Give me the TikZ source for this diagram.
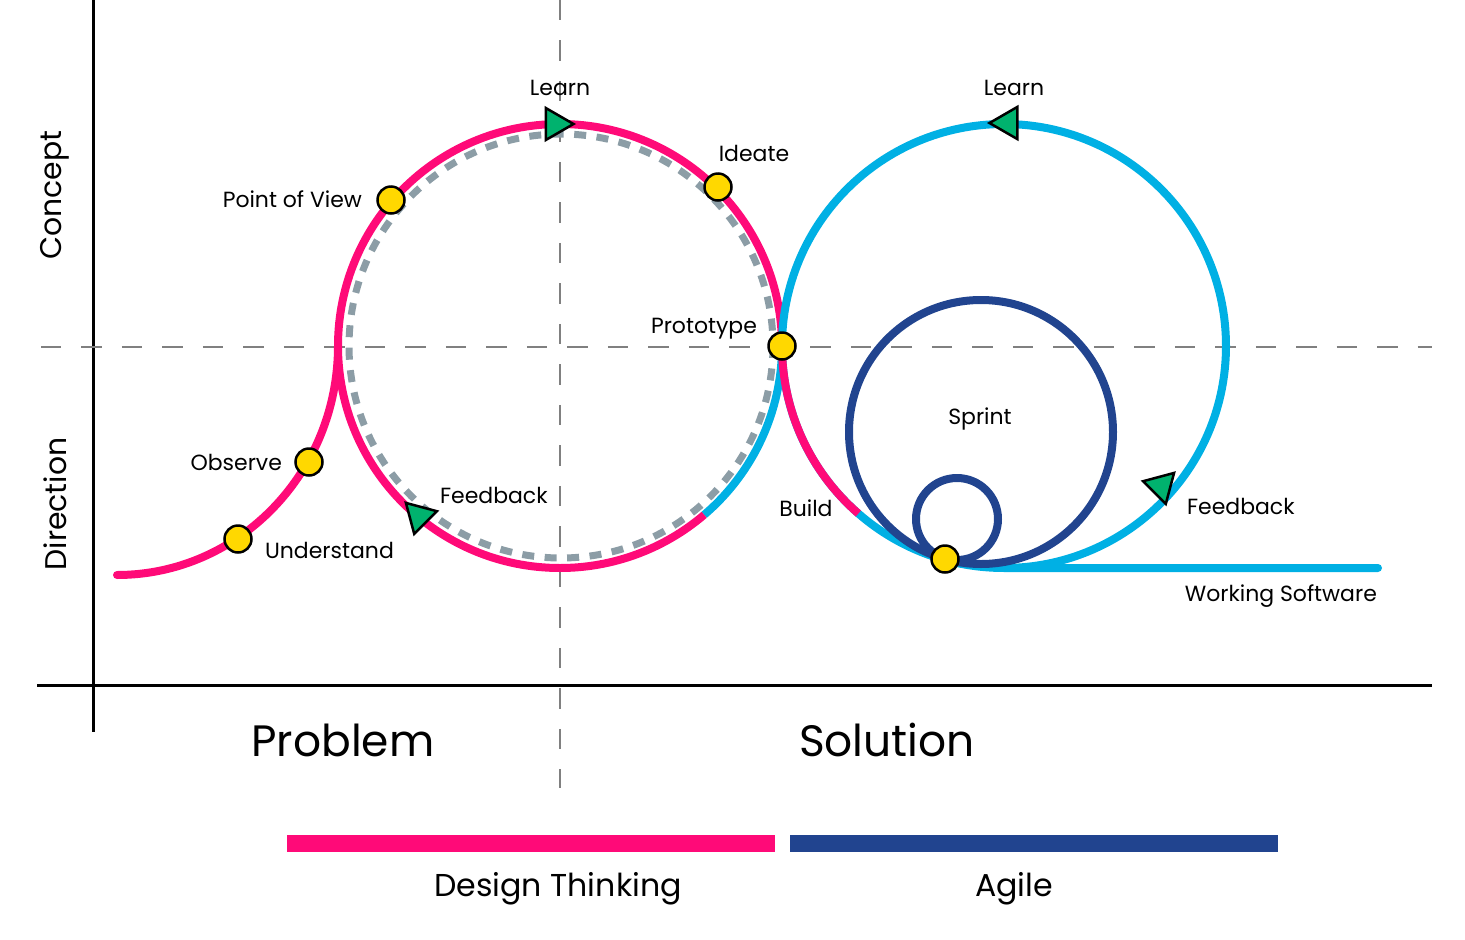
\documentclass[tikz,border=0pt]{standalone}
\usepackage{fontspec}
\setmainfont{Poppins}
\usetikzlibrary{positioning,shapes.geometric}
\definecolor{dtpink}{HTML}{FF0A78}
\definecolor{agcyan}{HTML}{00B0E4}
\definecolor{agnavy}{HTML}{21448F}
\definecolor{dotyellow}{HTML}{FFD800}
\definecolor{arrowgreen}{HTML}{00B26E}
\definecolor{loopgrey}{HTML}{8C9DA6}
\tikzset{
  track/.style={line width=0.16cm},
  pinktrack/.style={track, draw=dtpink},
  cyantrack/.style={track, draw=agcyan},
  navytrack/.style={track, draw=agnavy},
  guide/.style={draw=gray, line width=0.03cm, dash pattern=on 0.41cm off 0.4cm},
  axisline/.style={draw=black, line width=0.06cm},
  stepdot/.style={draw, circle, fill=dotyellow, line width=0.05cm, minimum size=0.54cm, inner sep=0pt},
  dirtri/.style={draw, regular polygon, regular polygon sides=3, fill=arrowgreen, line width=0.05cm, minimum size=0.74cm, inner sep=0pt},
  lbl/.style={font=\fontsize{12.5}{14}\selectfont, inner sep=1pt},
  phase/.style={font=\fontsize{25}{30}\selectfont},
  method/.style={font=\fontsize{18}{22}\selectfont},
  axislbl/.style={font=\fontsize{17}{20}\selectfont, rotate=90},
}
\begin{document}
\begin{tikzpicture}[x=0.02cm, y=-0.02cm]
  \useasboundingbox (0,0) rectangle (1465,940);
  % axes and guides
  \draw[axisline] (93,0) -- (93,732);
  \draw[axisline] (37,685) -- (1432,685);
  \draw[guide] (41,347) -- (1432,347);
  \draw[guide] (560,0) -- (560,788);
  % design thinking loop
  \draw[loopgrey, line width=0.14cm, dash pattern=on 0.24cm off 0.21cm] (561,346) circle[radius=212];
  \draw[cyantrack] (782,346) arc[start angle=0, end angle=49.5, radius=222];
  \draw[pinktrack, line cap=round] (117,575) arc[start angle=90, end angle=0, x radius=221, y radius=229];
  \draw[pinktrack] (338,346) arc[start angle=180, end angle=360, radius=222];
  \draw[pinktrack] (338,346) arc[start angle=180, end angle=49.5, radius=222];
  % agile loops
  \draw[cyantrack, line cap=round] (782,346) arc[start angle=180, end angle=450, radius=222] -- (1378,568);
  \draw[cyantrack] (782,346) arc[start angle=180, end angle=90, radius=222];
  \draw[navytrack] (981,432) circle[radius=132];
  \draw[navytrack] (957,519) circle[radius=41];
  \draw[pinktrack] (782,346) arc[start angle=180, end angle=131, radius=222];
  % direction marks
  \node[dirtri, shape border rotate=-90] (learnA) at (555,124) {};
  \node[dirtri, shape border rotate=45] (feedA) at (419,516) {};
  \node[dirtri, shape border rotate=90] (learnB) at (1008,123) {};
  \node[dirtri, shape border rotate=-45] (feedB) at (1161,486) {};
  % steps
  \node[stepdot] (understand) at (238,539) {};
  \node[stepdot] (observe) at (309,462) {};
  \node[stepdot] (pov) at (391,200) {};
  \node[stepdot] (ideate) at (718,187) {};
  \node[stepdot] (proto) at (782,346) {};
  \node[stepdot] (sprint) at (945,559) {};
  % labels
  \node[lbl] at (560,88) {Learn};
  \node[lbl] at (754,153) {Ideate};
  \node[lbl, anchor=east] at (364,199) {Point of View};
  \node[lbl] at (704,329) {Prototype};
  \node[lbl, anchor=east] at (284,462) {Observe};
  \node[lbl, anchor=west] at (263,550) {Understand};
  \node[lbl, anchor=west] at (438,495) {Feedback};
  \node[lbl] at (806,508) {Build};
  \node[lbl] at (980,419) {Sprint};
  \node[lbl] at (1014,88) {Learn};
  \node[lbl, anchor=west] at (1185,506) {Feedback};
  \node[lbl, anchor=east] at (1379,596) {Working Software};
  \node[axislbl] at (55,195) {Concept};
  \node[axislbl] at (55,504) {Direction};
  \node[phase] at (343,740) {Problem};
  \node[phase] at (887,740) {Solution};
  % methods
  \fill[dtpink] (287,835) rectangle (775,852);
  \fill[agnavy] (790,835) rectangle (1278,852);
  \node[method] at (558,889) {Design Thinking};
  \node[method] at (1014,889) {Agile};
\end{tikzpicture}
\end{document}
